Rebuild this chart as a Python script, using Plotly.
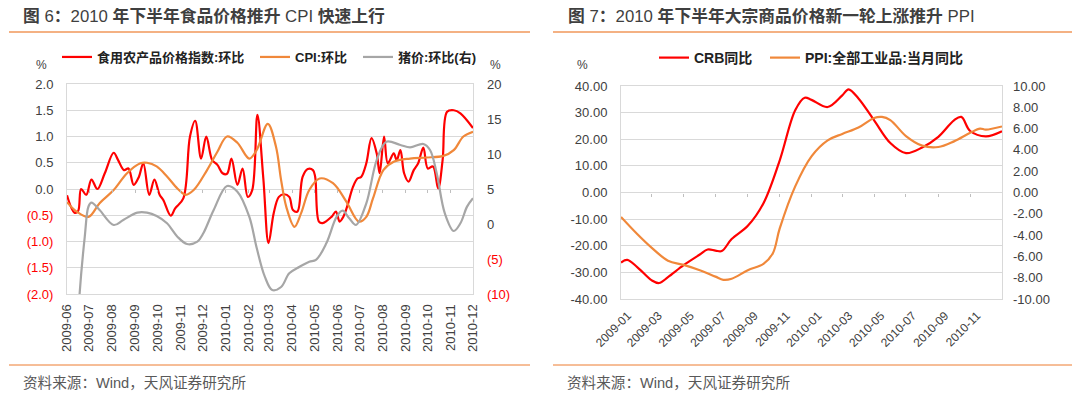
import plotly.graph_objects as go

# ---------------- Left panel data (图6) ----------------
food_dates = ["2009-06-01", "2009-06-11", "2009-06-16", "2009-06-20", "2009-06-27", "2009-07-04",
              "2009-07-12", "2009-07-22", "2009-08-03", "2009-08-09", "2009-08-17", "2009-08-23",
              "2009-08-30", "2009-09-06", "2009-09-12", "2009-09-20", "2009-09-27", "2009-10-04",
              "2009-10-09", "2009-10-19", "2009-10-25", "2009-11-05", "2009-11-14", "2009-11-21",
              "2009-11-29", "2009-12-06", "2009-12-14", "2009-12-21", "2009-12-28", "2010-01-03",
              "2010-01-09", "2010-01-17", "2010-01-24", "2010-01-31", "2010-02-06", "2010-02-13",
              "2010-02-21", "2010-02-28", "2010-03-07", "2010-03-14", "2010-03-21", "2010-03-28",
              "2010-04-02", "2010-04-08", "2010-04-15", "2010-04-22", "2010-04-29", "2010-05-02",
              "2010-05-07", "2010-05-12", "2010-05-24", "2010-05-30", "2010-06-04", "2010-06-09",
              "2010-06-14", "2010-06-22", "2010-06-28", "2010-07-03", "2010-07-10", "2010-07-17",
              "2010-07-24", "2010-07-28", "2010-08-03", "2010-08-08", "2010-08-16", "2010-08-20",
              "2010-08-25", "2010-08-30", "2010-09-05", "2010-09-12", "2010-09-18", "2010-09-25",
              "2010-10-01", "2010-10-08", "2010-10-15", "2010-10-21", "2010-10-27", "2010-11-05",
              "2010-11-14", "2010-12-01"]
food_vals = [-0.12, -0.45, -0.42, 0.0, -0.11, 0.18,
             0.0, 0.30, 0.69, 0.55, 0.36, 0.39,
             0.08, 0.23, 0.49, -0.11, 0.18, -0.11,
             -0.21, -0.51, -0.37, -0.18, 1.0, 1.30,
             0.58, 1.0, 0.55, 0.46, 0.30, 0.29,
             0.58, 0.08, 0.39, -0.15, -0.02, 1.41,
             0.20, -1.03, -0.46, -0.15, -0.10, -0.15,
             -0.40, -0.43, 0.23, 0.38, 0.36, 0.23,
             -0.62, -0.65, -0.53, -0.43, -0.62, -0.53,
             -0.34, 0.04, 0.20, 0.23, 0.49, 0.97,
             0.68, 0.30, 1.0, 0.49, 0.68, 0.55,
             0.74, 0.30, 0.14, 0.36, 0.49, 0.79,
             0.39, 0.43, 0.01, 0.55, 1.47, 1.50,
             1.44, 1.16]

cpi_dates = ["2009-06-01", "2009-06-14", "2009-06-30", "2009-07-15", "2009-08-03", "2009-08-21",
             "2009-09-08", "2009-09-17", "2009-09-30", "2009-10-14", "2009-10-28", "2009-11-08",
             "2009-11-19", "2009-12-07", "2009-12-21", "2010-01-03", "2010-01-17", "2010-02-02",
             "2010-02-12", "2010-02-27", "2010-03-10", "2010-03-17", "2010-03-24", "2010-04-04",
             "2010-04-13", "2010-04-24", "2010-05-08", "2010-05-26", "2010-06-13", "2010-06-30",
             "2010-07-10", "2010-07-19", "2010-08-02", "2010-08-16", "2010-09-07", "2010-09-29",
             "2010-10-22", "2010-11-05", "2010-11-18", "2010-12-01"]
cpi_vals = [-0.25, -0.43, -0.53, -0.27, -0.02, 0.30,
            0.49, 0.50, 0.43, 0.24, 0.01, -0.11,
            -0.02, 0.36, 0.71, 1.0, 0.88, 0.58,
            0.74, 1.24, 0.81, 0.17, -0.34, -0.72,
            -0.46, -0.02, 0.20, 0.11, -0.24, -0.62,
            -0.53, -0.18, 0.36, 0.52, 0.58, 0.60,
            0.63, 0.74, 1.0, 1.09]

pig_dates = ["2009-06-13", "2009-06-18", "2009-06-25", "2009-06-30", "2009-07-04", "2009-07-15",
             "2009-08-03", "2009-08-16", "2009-09-04", "2009-09-17", "2009-09-30", "2009-10-14",
             "2009-10-28", "2009-11-10", "2009-11-24", "2009-12-02", "2009-12-16", "2010-01-03",
             "2010-01-17", "2010-02-02", "2010-02-12", "2010-02-23", "2010-03-05", "2010-03-17",
             "2010-03-28", "2010-04-11", "2010-04-24", "2010-05-03", "2010-05-17", "2010-05-31",
             "2010-06-08", "2010-06-17", "2010-06-26", "2010-07-10", "2010-07-24", "2010-08-06",
             "2010-08-25", "2010-09-07", "2010-09-25", "2010-10-04", "2010-10-13", "2010-10-24",
             "2010-11-05", "2010-11-14", "2010-11-23", "2010-12-01"]
pig_vals = [-20.0, -10.0, -1.8, 2.5, 3.05, 2.0,
            -0.14, 0.57, 1.62, 1.62, 1.14, 0.1,
            -1.81, -2.86, -2.52, -1.33, 2.0, 5.43,
            4.62, 1.05, -3.4, -7.52, -9.43, -9.0,
            -7.05, -6.1, -5.38, -5.14, -2.76, 1.05,
            1.9, 0.81, -0.14, 2.95, 9.14, 11.76,
            11.29, 10.95, 11.43, 10.57, 7.24, 1.52,
            -1.0, 0.1, 2.48, 3.67]

left_months = ["2009-06", "2009-07", "2009-08", "2009-09", "2009-10", "2009-11", "2009-12",
               "2010-01", "2010-02", "2010-03", "2010-04", "2010-05", "2010-06", "2010-07",
               "2010-08", "2010-09", "2010-10", "2010-11", "2010-12"]
left_y_ticks = [-2.0, -1.5, -1.0, -0.5, 0.0, 0.5, 1.0, 1.5, 2.0]
left_y_text = ["(2.0)", "(1.5)", "(1.0)", "(0.5)", "0.0", "0.5", "1.0", "1.5", "2.0"]
left_y2_ticks = [-10, -5, 0, 5, 10, 15, 20]
left_y2_text = ["(10)", "(5)", "0", "5", "10", "15", "20"]

# ---------------- Right panel data (图7) ----------------
crb_dates = ["2009-01-01", "2009-01-13", "2009-02-01", "2009-03-01", "2009-03-15", "2009-04-01",
             "2009-05-01", "2009-06-01", "2009-06-16", "2009-07-01", "2009-07-13", "2009-08-01",
             "2009-09-01", "2009-10-01", "2009-11-01", "2009-12-01", "2009-12-19", "2010-01-01",
             "2010-02-01", "2010-03-01", "2010-03-13", "2010-04-01", "2010-05-01", "2010-06-01",
             "2010-07-01", "2010-08-01", "2010-09-01", "2010-10-01", "2010-10-15", "2010-11-01",
             "2010-12-01", "2011-01-01"]
crb_vals = [-26.3, -25.3, -28.0, -33.0, -34.0, -31.8,
            -27.3, -23.3, -21.4, -21.8, -22.0, -17.5,
            -12.5, -4.0, 12.0, 31.0, 35.6, 34.8,
            32.1, 36.5, 38.75, 35.3, 27.1, 18.6,
            14.8, 16.9, 20.9, 27.1, 28.4, 23.1,
            21.1, 23.0]

ppi_dates = ["2009-01-01", "2009-02-01", "2009-03-01", "2009-04-01", "2009-05-01", "2009-06-01",
             "2009-07-01", "2009-07-16", "2009-08-01", "2009-09-01", "2009-10-01", "2009-10-19",
             "2009-11-01", "2009-12-01", "2010-01-01", "2010-02-01", "2010-03-01", "2010-04-01",
             "2010-05-01", "2010-05-16", "2010-06-01", "2010-07-01", "2010-08-01", "2010-09-01",
             "2010-10-01", "2010-11-01", "2010-11-20", "2010-12-01", "2011-01-01"]
ppi_vals = [-2.3, -3.9, -5.2, -6.4, -6.8, -7.3,
            -7.9, -8.2, -8.1, -7.3, -6.7, -5.7,
            -3.4, 0.6, 3.4, 4.9, 5.5, 6.1,
            7.0, 7.1, 6.8, 5.3, 4.4, 4.27,
            4.8, 5.6, 6.0, 5.9, 6.2]

right_labels = ["2009-01", "2009-03", "2009-05", "2009-07", "2009-09", "2009-11",
                "2010-01", "2010-03", "2010-05", "2010-07", "2010-09", "2010-11"]
right_y_ticks = [-40, -30, -20, -10, 0, 10, 20, 30, 40]
right_y_text = ["-40.00", "-30.00", "-20.00", "-10.00", "0.00", "10.00", "20.00", "30.00", "40.00"]
right_y2_ticks = [-10, -8, -6, -4, -2, 0, 2, 4, 6, 8, 10]
right_y2_text = ["-10.00", "-8.00", "-6.00", "-4.00", "-2.00", "0.00", "2.00", "4.00", "6.00", "8.00", "10.00"]

# ---------------- Styling ----------------
FONT = "Liberation Sans, Arial, Noto Sans CJK SC, sans-serif"
RED = "#ff0000"
ORANGE = "#f0883a"
GRAY = "#a6a6a6"
GRID = "#d9d9d9"
TXT = "#404040"

# the page body has an 8px margin: the figure is sized/placed so that the
# visible window (1080x394) matches the reference pixel layout
PAGE_W, PAGE_H, OFF = 1080, 394, 8
W, H = PAGE_W - OFF, PAGE_H - OFF


def red_neg(texts):
    return [f"<span style='color:{RED}'>{t}</span>" if t.startswith("(") else t for t in texts]


def px_x(p):
    return (p - OFF) / W


def px_y(p):
    return 1 - (p - OFF) / H


LX = [px_x(67), px_x(473)]
LY = [px_y(294), px_y(84)]
RX = [px_x(621), px_x(1002)]
RY = [px_y(299), px_y(86)]

fig = go.Figure()

line_kw = dict(mode="lines", line_shape="spline")
fig.add_trace(go.Scatter(x=food_dates, y=food_vals, name="<b>食用农产品价格指数:环比</b>",
                         line=dict(color=RED, width=2.2, smoothing=1.0), xaxis="x", yaxis="y",
                         legend="legend", **line_kw))
fig.add_trace(go.Scatter(x=cpi_dates, y=cpi_vals, name="<b>CPI:环比</b>",
                         line=dict(color=ORANGE, width=2.2, smoothing=1.0), xaxis="x", yaxis="y",
                         legend="legend2", **line_kw))
fig.add_trace(go.Scatter(x=pig_dates, y=pig_vals, name="<b>猪价:环比(右)</b>",
                         line=dict(color=GRAY, width=2.2, smoothing=1.0), xaxis="x", yaxis="y2",
                         legend="legend3", **line_kw))
fig.add_trace(go.Scatter(x=crb_dates, y=crb_vals, name="<b>CRB同比</b>",
                         line=dict(color=RED, width=2.2, smoothing=1.0), xaxis="x2", yaxis="y3",
                         legend="legend4", **line_kw))
fig.add_trace(go.Scatter(x=ppi_dates, y=ppi_vals, name="<b>PPI:全部工业品:当月同比</b>",
                         line=dict(color=ORANGE, width=2.2, smoothing=1.0), xaxis="x2", yaxis="y4",
                         legend="legend5", **line_kw))
# helper traces so that zero-line tick axes are rendered
fig.add_trace(go.Scatter(x=[], y=[], xaxis="x3", yaxis="y", showlegend=False, hoverinfo="skip"))
fig.add_trace(go.Scatter(x=[], y=[], xaxis="x4", yaxis="y3", showlegend=False, hoverinfo="skip"))

left_range = [left_months[0] + "-01", left_months[-1] + "-01"]
right_range = ["2009-01-01", "2011-01-01"]

axis_font = dict(family=FONT, size=13, color=TXT)


def legend_at(xp, yp, size=13):
    return dict(orientation="h", x=px_x(xp), y=px_y(yp), xanchor="left", yanchor="middle",
                font=dict(family=FONT, size=size, color="#222222"), bgcolor="rgba(0,0,0,0)",
                itemwidth=30, borderwidth=0)


fig.update_layout(
    width=W, height=H,
    margin=dict(l=0, r=0, t=0, b=0, autoexpand=False),
    paper_bgcolor="white", plot_bgcolor="white",
    font=dict(family=FONT, color=TXT),
    xaxis=dict(domain=LX, anchor="y", type="date", range=left_range, automargin=False,
               tickmode="array", tickvals=[m + "-01" for m in left_months], ticktext=left_months,
               tickangle=-90, ticks="", ticklabelstandoff=4, tickfont=axis_font,
               showgrid=False, zeroline=False, showline=True, mirror=True, linecolor=GRID, linewidth=1),
    yaxis=dict(domain=LY, anchor="x", range=[-2, 2], tickmode="array", tickvals=left_y_ticks,
               ticktext=red_neg(left_y_text), tickfont=axis_font, ticks="", ticklabelstandoff=10,
               automargin=False,
               showgrid=True, gridcolor=GRID, gridwidth=1, zeroline=False,
               showline=True, mirror=True, linecolor=GRID),
    yaxis2=dict(overlaying="y", side="right", anchor="x", range=[-10, 20], tickmode="array",
                tickvals=left_y2_ticks, ticktext=red_neg(left_y2_text), tickfont=axis_font,
                automargin=False,
                ticks="", ticklabelstandoff=13, showgrid=False, zeroline=False, showline=False),
    xaxis3=dict(overlaying="x", anchor="free", position=(LY[0] + LY[1]) / 2, type="date",
                range=left_range, tickmode="array", tickvals=[m + "-01" for m in left_months[1:-1]],
                automargin=False,
                ticks="outside", ticklen=3, tickcolor="#bfbfbf", showticklabels=False,
                showgrid=False, zeroline=False, showline=False),
    xaxis2=dict(domain=RX, anchor="y3", type="date", range=right_range, automargin=False,
                tickmode="array", tickvals=[m + "-14" for m in right_labels], ticktext=right_labels,
                tickangle=-45, ticks="", ticklabelstandoff=4, tickfont=dict(family=FONT, size=12, color=TXT),
                showgrid=False, zeroline=False, showline=True, mirror=True, linecolor=GRID, linewidth=1),
    yaxis3=dict(domain=RY, anchor="x2", range=[-40, 40], tickmode="array", tickvals=right_y_ticks,
                ticktext=right_y_text, tickfont=axis_font, ticks="", ticklabelstandoff=10,
                automargin=False,
                showgrid=True, gridcolor=GRID, gridwidth=1, zeroline=False,
                showline=True, mirror=True, linecolor=GRID),
    yaxis4=dict(overlaying="y3", side="right", anchor="x2", range=[-10, 10], tickmode="array",
                tickvals=right_y2_ticks, ticktext=right_y2_text, tickfont=axis_font,
                automargin=False,
                ticks="", ticklabelstandoff=10, showgrid=False, zeroline=False, showline=False),
    xaxis4=dict(overlaying="x2", anchor="free", position=(RY[0] + RY[1]) / 2, type="date",
                range=right_range, tickmode="array",
                tickvals=[m + "-01" for m in right_labels[1:]], automargin=False,
                ticks="outside", ticklen=3, tickcolor="#bfbfbf", showticklabels=False,
                showgrid=False, zeroline=False, showline=False),
    legend=legend_at(57, 57),
    legend2=legend_at(255, 57),
    legend3=legend_at(358, 57),
    legend4=legend_at(654, 58, 14),
    legend5=legend_at(765, 58, 14),
    showlegend=True,
)

ann = []
ann.append(dict(text="<b>图</b> 6<b>：</b>2010 <b>年下半年食品价格推升</b> CPI <b>快速上行</b>",
                x=px_x(21), y=px_y(16), xanchor="left", yanchor="middle",
                font=dict(family=FONT, size=16.8, color="#3f3f3f")))
ann.append(dict(text="<b>图</b> 7<b>：</b>2010 <b>年下半年大宗商品价格新一轮上涨推升</b> PPI",
                x=px_x(566), y=px_y(16), xanchor="left", yanchor="middle",
                font=dict(family=FONT, size=16.8, color="#3f3f3f")))
for xx in (21, 565):
    ann.append(dict(text="资料来源：Wind，天风证券研究所", x=px_x(xx), y=px_y(383),
                    xanchor="left", yanchor="middle", font=dict(family=FONT, size=14.6, color="#595959")))
for xx in (41, 495, 582):
    ann.append(dict(text="%", x=px_x(xx), y=px_y(65), xanchor="center", yanchor="middle",
                    font=dict(family=FONT, size=12, color=TXT)))
for a in ann:
    a.update(xref="paper", yref="paper", showarrow=False)
fig.update_layout(annotations=ann)

shapes = []
for x0, x1 in ((9, 530), (553, 1075)):
    shapes.append(dict(type="line", xref="paper", yref="paper", x0=px_x(x0), x1=px_x(x1),
                       y0=px_y(32), y1=px_y(32), line=dict(color="#f4b183", width=2)))
    shapes.append(dict(type="line", xref="paper", yref="paper", x0=px_x(x0), x1=px_x(x1),
                       y0=px_y(365), y1=px_y(365), line=dict(color="#ed7d31", width=1)))
fig.update_layout(shapes=shapes)

fig.write_html("out.html")
